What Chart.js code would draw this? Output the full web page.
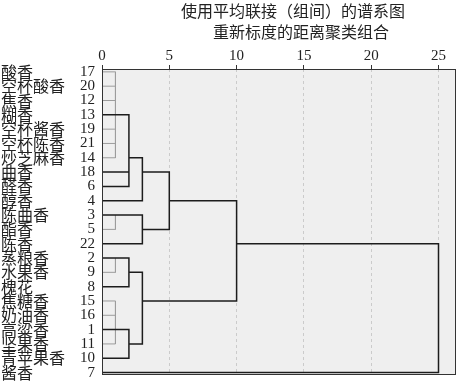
<!DOCTYPE html>
<html>
<head>
<meta charset="utf-8">
<script src="https://cdn.jsdelivr.net/npm/chart.js@4/dist/chart.umd.min.js"></script>
<style>
  body { margin: 0; background: #fff; }
  #wrap { width: 457px; height: 390px; }
</style>
</head>
<body>
<div id="wrap"><canvas id="dendro"></canvas></div>
<script>
// leaves, top to bottom
const leafCases = [17, 20, 12, 13, 19, 21, 14, 18, 6, 4, 3, 5, 22, 2, 9, 8, 15, 16, 1, 11, 10, 7];
const leafNames = ["酸香", "空杯酸香", "焦香", "糊香", "空杯酱香", "空杯陈香", "炒芝麻香", "曲香", "醛香", "醇香",
  "陈曲香", "酯香", "陈香", "蒸粮香", "水果香", "槐花", "焦糖香", "奶油香", "高粱香", "坚果香", "青苹果香", "酱香"];
const leafDist = [1, 1, 1, 1, 1, 1, 1, 2, 2, 3, 1, 1, 3, 1, 1, 2, 1, 1, 1, 1, 2, 25];

// merges: rescaled distance, first row, last row, row of the outgoing line, distance of the parent merge
const mergeDist = [1, 1, 2, 3, 3, 5, 1, 2, 1, 2, 3, 10, 25];
const mergeTop = [0, 10, 3, 6, 10, 7, 13, 13, 16, 18, 14, 9, 12];
const mergeBottom = [6, 11, 8, 9, 12, 11, 14, 15, 19, 20, 19, 16, 21];
const mergeOutRow = [3, 10, 6, 7, 11, 9, 13, 14, 18, 19, 16, 12, null];
const mergeParentDist = [2, 3, 3, 5, 5, 10, 2, 3, 2, 3, 10, 25, null];

const xTicks = [0, 5, 10, 15, 20, 25];

// build line segments (NaN point = gap)
const black = [];
const gray = [];
const seg = (arr, x1, y1, x2, y2) => {
  arr.push({ x: x1, y: y1 }, { x: x2, y: y2 }, { x: NaN, y: NaN });
};

leafDist.forEach((d, i) => {
  const carries = mergeOutRow.some((r, m) => r === i && mergeDist[m] === d);
  seg(d > 1 || carries ? black : gray, 0, i, d, i);
});
mergeDist.forEach((d, m) => {
  seg(d === 1 ? gray : black, d, mergeTop[m], d, mergeBottom[m]);
  if (mergeOutRow[m] !== null) {
    seg(black, d, mergeOutRow[m], mergeParentDist[m], mergeOutRow[m]);
  }
});

const rowTicks = leafCases.map((c, i) => ({ value: i }));

const frame = {
  id: "frame",
  beforeDraw(chart) {
    const { ctx, chartArea: a } = chart;
    ctx.save();
    ctx.fillStyle = "#efefef";
    ctx.fillRect(a.left, a.top, a.right - a.left, a.bottom - a.top);
    ctx.restore();
  },
  afterDraw(chart) {
    const { ctx, chartArea: a } = chart;
    ctx.save();
    ctx.strokeStyle = "#333";
    ctx.lineWidth = 1;
    ctx.strokeRect(a.left + 0.5, a.top + 0.5, a.right - a.left - 1, a.bottom - a.top);
    ctx.fillStyle = "#222";
    ctx.textAlign = "center";
    ctx.textBaseline = "middle";
    ctx.font = "16px 'Noto Sans CJK SC'";
    const mid = (a.left + a.right) / 2;
    ctx.fillText("使用平均联接（组间）的谱系图", mid + 14, 11);
    ctx.fillText("重新标度的距离聚类组合", mid + 22, 32);
    ctx.restore();
  },
};

new Chart(document.getElementById("dendro"), {
  type: "scatter",
  data: {
    datasets: [
      {
        data: gray,
        showLine: true,
        spanGaps: false,
        borderColor: "#9c9c9c",
        borderWidth: 1,
        pointRadius: 0,
        order: 2,
      },
      {
        data: black,
        showLine: true,
        spanGaps: false,
        borderColor: "#1c1c1c",
        borderWidth: 1.5,
        borderCapStyle: "square",
        pointRadius: 0,
        order: 1,
      },
    ],
  },
  options: {
    responsive: true,
    maintainAspectRatio: false,
    animation: false,
    layout: { padding: { top: 44, right: 1, bottom: 5, left: 1 } },
    plugins: {
      legend: { display: false },
      tooltip: { enabled: false },
    },
    scales: {
      x: {
        type: "linear",
        position: "top",
        min: 0,
        max: 26.3,
        afterBuildTicks: (s) => { s.ticks = xTicks.map((v) => ({ value: v })); },
        afterFit: (s) => { s.height = 25; },
        grid: {
          color: (c) => (c.tick && c.tick.value === 0 ? "rgba(0,0,0,0)" : "#cbcbcb"),
          tickColor: "#333",
          tickLength: 4,
        },
        border: { display: false, dash: [3, 3] },
        ticks: {
          padding: 0,
          color: "#222",
          font: { family: "Liberation Serif", size: 15 },
        },
      },
      y: {
        type: "linear",
        position: "left",
        reverse: true,
        min: -0.2,
        max: 21.1,
        weight: 0,
        afterBuildTicks: (s) => { s.ticks = rowTicks.map((t) => ({ value: t.value })); },
        afterFit: (s) => { s.width = 29; },
        grid: { display: false, drawTicks: false },
        border: { display: false },
        ticks: {
          autoSkip: false,
          padding: 7,
          color: "#222",
          font: { family: "Liberation Serif", size: 15 },
          callback: (v) => leafCases[v],
        },
      },
      yn: {
        type: "linear",
        position: "left",
        reverse: true,
        min: -0.2,
        max: 21.1,
        weight: 1,
        afterBuildTicks: (s) => { s.ticks = rowTicks.map((t) => ({ value: t.value })); },
        afterFit: (s) => { s.width = 72; },
        grid: { display: false, drawTicks: false },
        border: { display: false },
        ticks: {
          autoSkip: false,
          padding: 0,
          crossAlign: "far",
          color: "#222",
          font: { family: "'Noto Sans CJK SC'", size: 16 },
          callback: (v) => leafNames[v],
        },
      },
    },
  },
  plugins: [frame],
});
</script>
</body>
</html>
